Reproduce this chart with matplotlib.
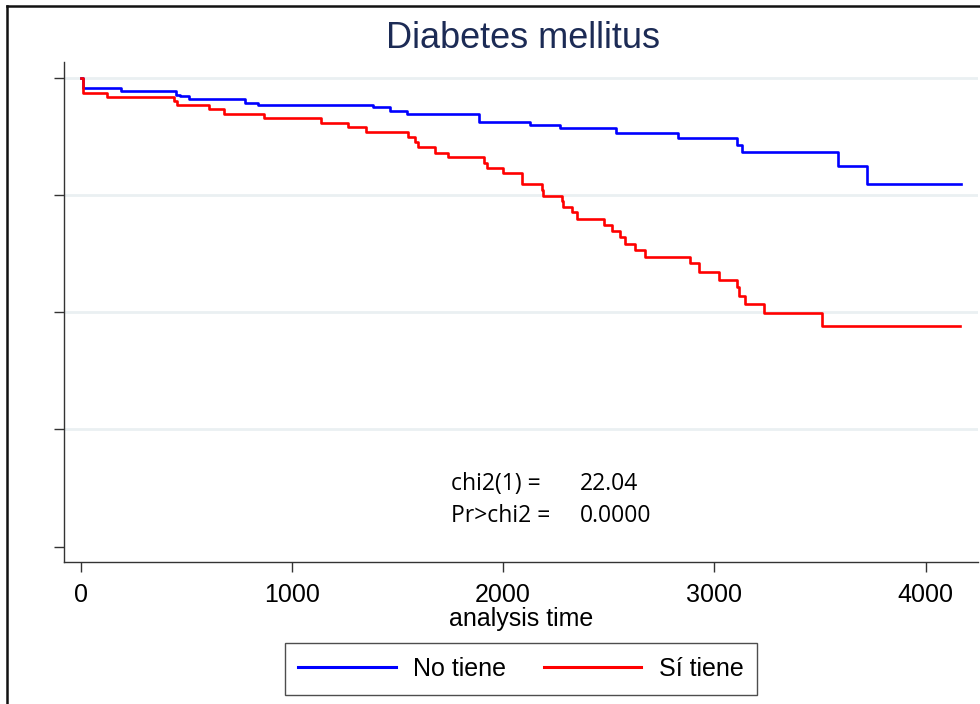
"""
Kaplan-Meier survival curves - Diabetes mellitus
"""

import matplotlib.pyplot as plt
from matplotlib.lines import Line2D

# Survival steps (time, survival probability)
no_tiene_time = [0, 10, 189, 450, 470, 513, 778, 841, 1385, 1464, 1543, 1886,
                 2127, 2269, 2533, 2829, 3105, 3129, 3586, 3721, 4167]
no_tiene_surv = [1.0, 0.978, 0.972, 0.963, 0.960, 0.954, 0.947, 0.941, 0.937, 0.930,
                 0.923, 0.906, 0.899, 0.892, 0.883, 0.871, 0.857, 0.842, 0.812,
                 0.773, 0.773]

si_tiene_time = [0, 10, 126, 442, 455, 607, 678, 868, 1136, 1267, 1351, 1551,
                 1582, 1598, 1677, 1740, 1909, 1925, 2000, 2087, 2182, 2190,
                 2277, 2285, 2324, 2351, 2479, 2513, 2553, 2577, 2624, 2671,
                 2884, 2928, 3023, 3105, 3118, 3145, 3235, 3508, 4162]
si_tiene_surv = [1.0, 0.967, 0.958, 0.950, 0.941, 0.933, 0.922, 0.913, 0.904,
                 0.894, 0.884, 0.874, 0.862, 0.853, 0.840, 0.830, 0.819, 0.807,
                 0.797, 0.773, 0.761, 0.748, 0.737, 0.724, 0.713, 0.699, 0.686,
                 0.674, 0.661, 0.645, 0.633, 0.618, 0.604, 0.586, 0.569, 0.553,
                 0.535, 0.517, 0.499, 0.471, 0.471]

x_ticks = [0, 1000, 2000, 3000, 4000]
y_ticks = [0, 0.25, 0.5, 0.75, 1.0]

title = 'Diabetes mellitus'
series_labels = ['No tiene', 'Sí tiene']
chi_labels = ['chi2(1) =', 'Pr>chi2 =']
chi_values = ['22.04', '0.0000']

plt.rcParams['font.family'] = ['Liberation Sans', 'DejaVu Sans']

W, H = 980, 704
fig = plt.figure(figsize=(W / 100, H / 100), dpi=100)
ax = fig.add_axes([64 / W, 1 - 562 / H, (978 - 64) / W, (562 - 62) / H])

for y in y_ticks[1:]:
    ax.axhline(y, color='#eaf0f2', linewidth=2, zorder=0)

ax.step(no_tiene_time, no_tiene_surv, where='post', color='#0000ff', linewidth=1.9,
        label=series_labels[0])
ax.step(si_tiene_time, si_tiene_surv, where='post', color='#ff0000', linewidth=1.9,
        label=series_labels[1])

ax.set_xlim(-79, 4248)
ax.set_ylim(-0.033, 1.0335)
ax.set_xticks(x_ticks)
ax.set_yticks(y_ticks)
ax.set_yticklabels([])
ax.tick_params(axis='both', direction='out', length=7.2, width=1, color='#333333')
ax.tick_params(axis='x', labelsize=18, pad=8)
for side in ['top', 'right']:
    ax.spines[side].set_visible(False)
for side in ['left', 'bottom']:
    ax.spines[side].set_color('#333333')
    ax.spines[side].set_linewidth(1)

fig.text(523 / W, 1 - 38 / H, title, ha='center', va='center', fontsize=26,
         color='#1c2b55')
fig.text(521 / W, 1 - 619 / H, 'analysis time', ha='center', va='center', fontsize=18)

for i, (lab, val) in enumerate(zip(chi_labels, chi_values)):
    yy = 1 - (484 + 32 * i) / H
    fig.text(451 / W, yy, lab, ha='left', va='center', fontsize=16.5, family='Open Sans')
    fig.text(580 / W, yy, val, ha='left', va='center', fontsize=16.5, family='Open Sans')

leg = fig.legend(loc='center', bbox_to_anchor=(521 / W, 1 - 669 / H), ncol=2,
                 fontsize=18, frameon=True, fancybox=False, handlelength=3.9,
                 handletextpad=0.7, columnspacing=1.5, borderpad=0.55, borderaxespad=0)
leg.get_frame().set_edgecolor('#222222')
leg.get_frame().set_linewidth(1)
for line in leg.get_lines():
    line.set_linewidth(2.2)

# outer frame (only left and top edges are visible in the crop)
fig.add_artist(Line2D([7 / W, 7 / W], [0, 1 - 5.5 / H], transform=fig.transFigure,
                      color='#111111', linewidth=1.8))
fig.add_artist(Line2D([7 / W, 1], [1 - 5.5 / H, 1 - 5.5 / H], transform=fig.transFigure,
                      color='#111111', linewidth=1.8))

fig.savefig('out.png', dpi=100)
